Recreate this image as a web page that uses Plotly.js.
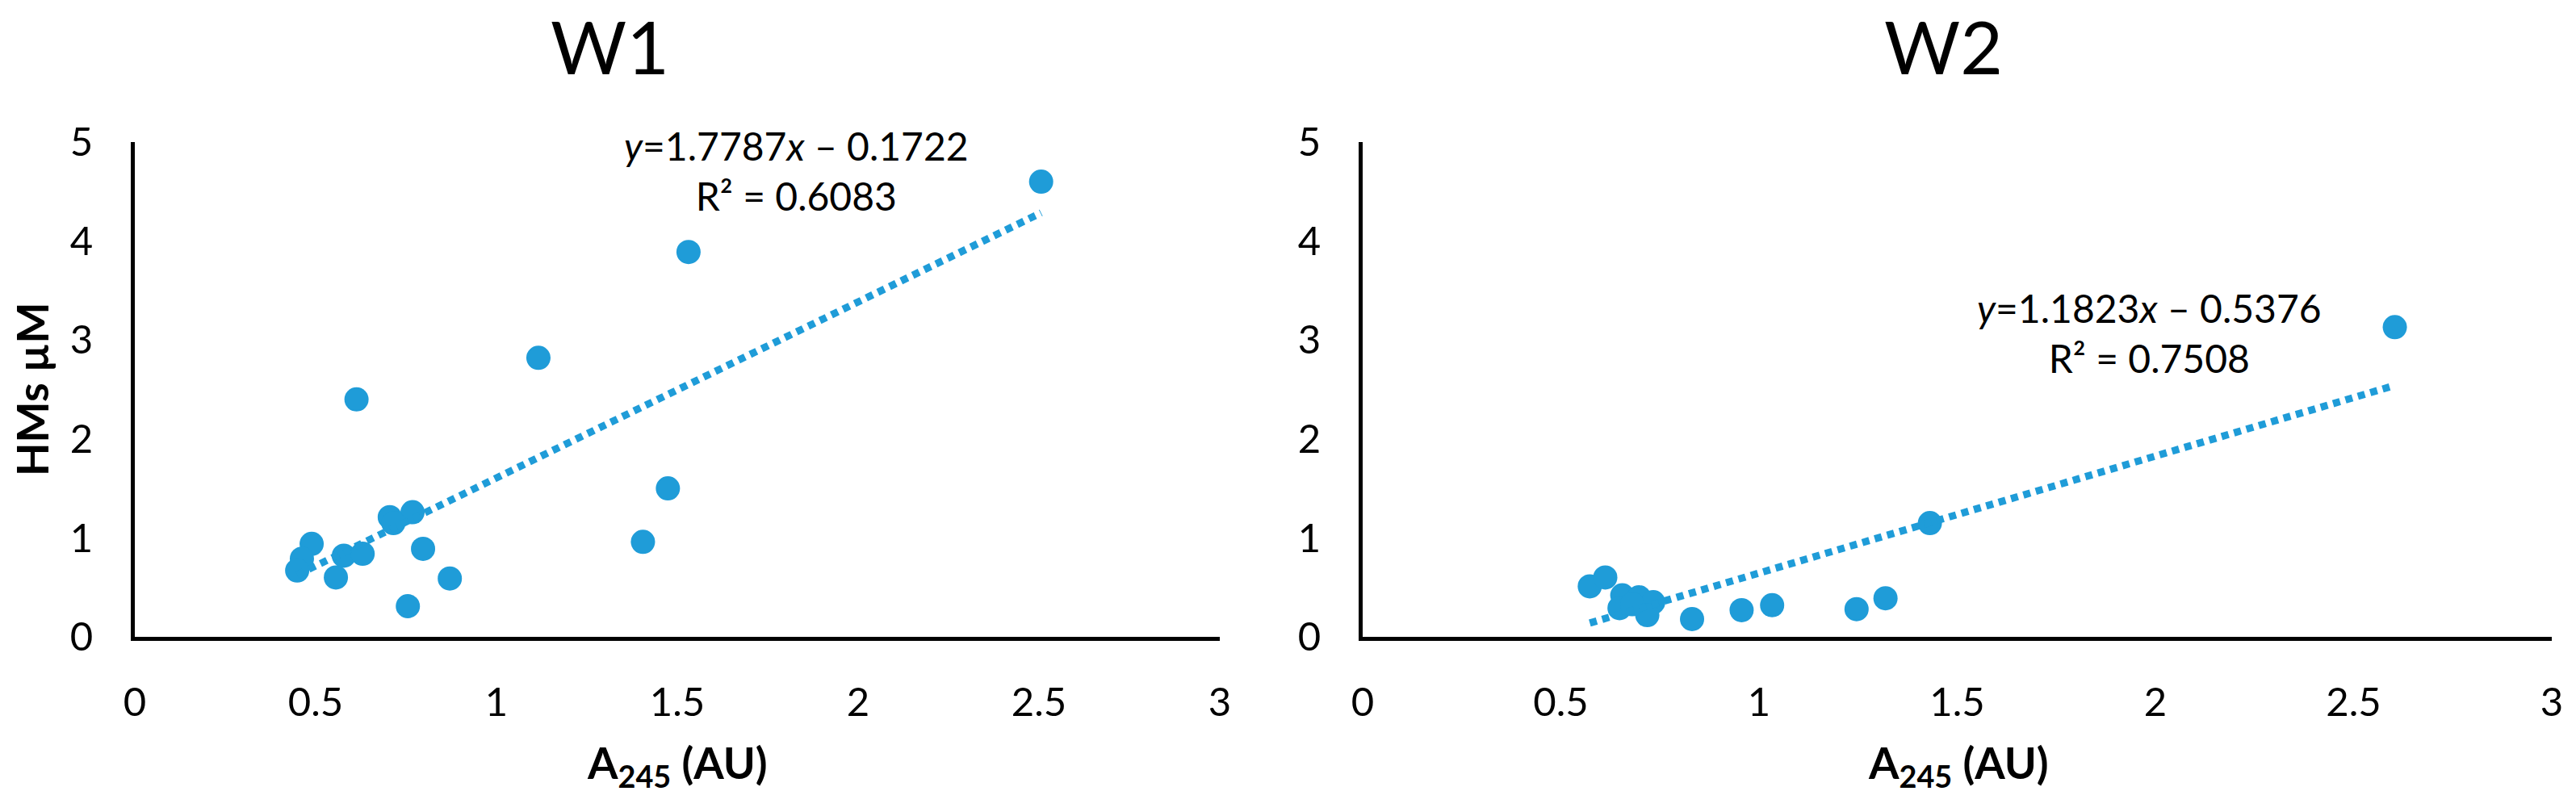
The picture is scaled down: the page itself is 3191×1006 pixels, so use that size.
<!DOCTYPE html>
<html>
<head>
<meta charset="utf-8">
<script src="https://cdn.plot.ly/plotly-3.0.1.min.js"></script>
<style>
  html, body { margin: 0; padding: 0; background: #fff; }
  #chart { width: 3191px; height: 1006px; }
</style>
</head>
<body>
<div id="chart"></div>
<script>
// values
const panelTitles = ["W1", "W2"];

const w1X = [2.506, 1.531, 1.116, 0.613, 1.474, 1.405, 0.768, 0.705, 0.715, 0.797, 0.871, 0.755, 0.489, 0.462, 0.449, 0.556, 0.578, 0.630];
const w1Y = [4.60, 3.89, 2.82, 2.40, 1.50, 0.96, 1.26, 1.21, 1.15, 0.89, 0.59, 0.31, 0.94, 0.79, 0.67, 0.60, 0.82, 0.84];

const w2X = [2.604, 1.431, 1.319, 1.246, 1.033, 0.956, 0.831, 0.573, 0.612, 0.655, 0.697, 0.733, 0.718, 0.648, 0.680];
const w2Y = [3.13, 1.15, 0.39, 0.28, 0.32, 0.27, 0.18, 0.51, 0.60, 0.42, 0.40, 0.35, 0.22, 0.29, 0.33];

const fitSlope = [1.7787, 1.1823];
const fitIntercept = [-0.1722, -0.5376];
const fitR2 = ["0.6083", "0.7508"];

const xTickVals = [0, 0.5, 1, 1.5, 2, 2.5, 3];
const yTickVals = [0, 1, 2, 3, 4, 5];

const xTitle = "A<sub>245</sub> (AU)";
const yTitle = "HMs µM";

const blue = "#1f9cd8";
const font = "Lato, Carlito, 'Open Sans', sans-serif";

function trend(xs, i) {
  const lo = Math.min(...xs), hi = Math.max(...xs);
  return [lo, hi].map(x => fitSlope[i] * x + fitIntercept[i]);
}

function eqLabel(i) {
  const b = Math.abs(fitIntercept[i]).toFixed(4);
  return `<i>y</i>=${fitSlope[i]}<i>x</i> – ${b}<br>R² = ${fitR2[i]}`;
}

const series = [[w1X, w1Y], [w2X, w2Y]];
const data = [];
series.forEach(([xs, ys], i) => {
  const ax = i === 0 ? "" : "2";
  data.push({
    x: xs, y: ys,
    xaxis: "x" + ax, yaxis: "y" + ax,
    mode: "markers", type: "scatter",
    marker: { size: 30, color: blue, line: { width: 0 } },
    hoverinfo: "x+y"
  });
  data.push({
    x: [Math.min(...xs), Math.max(...xs)],
    y: trend(xs, i),
    xaxis: "x" + ax, yaxis: "y" + ax,
    mode: "lines", type: "scatter",
    line: { color: blue, width: 9, dash: "9px,7px" },
    hoverinfo: "skip"
  });
});

const xAxisBase = {
  range: [0, 3], tickvals: xTickVals, ticks: "", showgrid: false, zeroline: false,
  showline: true, linecolor: "#000", linewidth: 5,
  tickfont: { family: font, size: 49, color: "#000" },
  ticklabelstandoff: 34, fixedrange: true
};
const yAxisBase = {
  range: [0, 5], tickvals: yTickVals, ticks: "", showgrid: false, zeroline: false,
  showline: true, linecolor: "#000", linewidth: 5,
  tickfont: { family: font, size: 49, color: "#000" },
  ticklabelstandoff: 37, domain: [0.2157, 0.825], fixedrange: true
};

const titleFont = { family: font, size: 91, color: "#000" };
const axisTitleFont = { family: font, size: 54, color: "#000", weight: "bold" };
const eqFont = { family: font, size: 48, color: "#000" };

const annotations = [
  { text: panelTitles[0], x: 0.2369, y: 1, yanchor: "top", font: titleFont },
  { text: panelTitles[1], x: 0.7546, y: 1, yanchor: "top", font: titleFont },
  { text: `<b>${xTitle}</b>`, x: 0.2629, y: 0.0577, font: axisTitleFont },
  { text: `<b>${xTitle}</b>`, x: 0.7602, y: 0.0577, font: axisTitleFont },
  { text: `<b>${yTitle}</b>`, x: 0.01254, y: 0.5199, textangle: -90, font: axisTitleFont },
  { text: eqLabel(0), x: 0.3090, y: 0.7893, font: eqFont },
  { text: eqLabel(1), x: 0.8345, y: 0.5900, font: eqFont }
].map(a => Object.assign({ xref: "paper", yref: "paper", xanchor: "center", yanchor: "middle", showarrow: false }, a));

const layout = {
  width: 3191, height: 1006,
  margin: { l: 0, r: 0, t: 0, b: 0 },
  showlegend: false,
  plot_bgcolor: "#fff",
  paper_bgcolor: "#fff",
  xaxis: Object.assign({}, xAxisBase, { domain: [0.05233, 0.47352], anchor: "y" }),
  yaxis: Object.assign({}, yAxisBase, { anchor: "x" }),
  xaxis2: Object.assign({}, xAxisBase, { domain: [0.52899, 0.99060], anchor: "y2" }),
  yaxis2: Object.assign({}, yAxisBase, { anchor: "x2" }),
  annotations: annotations
};

Plotly.newPlot("chart", data, layout, { displayModeBar: false, staticPlot: true });
</script>
</body>
</html>
